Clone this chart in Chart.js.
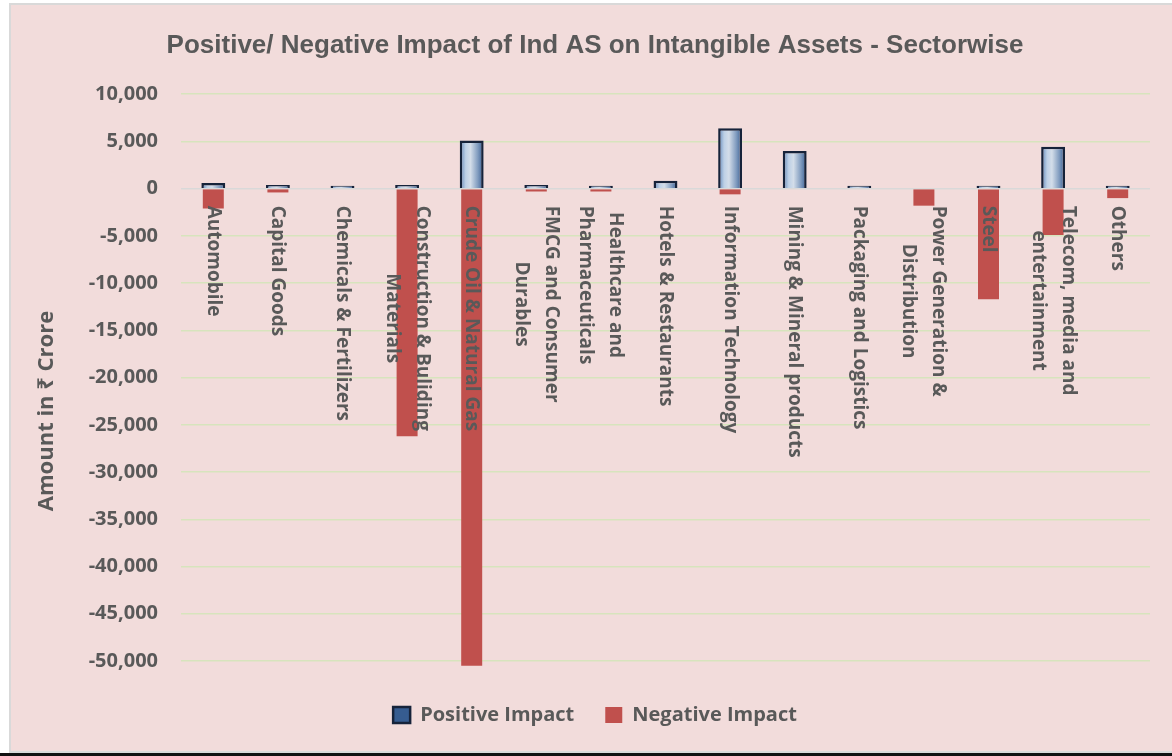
<!DOCTYPE html>
<html>
<head>
<meta charset="utf-8">
<script src="https://cdn.jsdelivr.net/npm/chart.js@4/dist/chart.umd.min.js"></script>
<style>
    body { margin: 0; background: #ffffff; width: 1172px; height: 756px; overflow: hidden; position: relative; }
    #frame { position: absolute; left: 9px; top: 3px; width: 1163px; height: 750px; box-sizing: border-box;
             border: 2px solid #d9d9d9; border-right: none; background: #f2dcdb; }
    #baseline { position: absolute; left: 0; top: 753px; width: 1172px; height: 3px; background: #111; }
    #wrap { position: absolute; left: 0; top: 0; width: 1172px; height: 756px; }
</style>
</head>
<body>
<div id="frame"></div>
<div id="baseline"></div>
<div id="wrap"><canvas id="impact-chart" width="1172" height="756"></canvas></div>
<script>
// Sectores (cada etiqueta puede tener varias líneas)
const categories = [
    ['Automobile'],
    ['Capital Goods'],
    ['Chemicals & Fertilizers'],
    ['Construction & Buliding', 'Materials'],
    ['Crude Oil & Natural Gas'],
    ['FMCG and Consumer', 'Durables'],
    ['Healthcare and', 'Pharmaceuticals'],
    ['Hotels & Restaurants'],
    ['Information Technology'],
    ['Mining & Mineral products'],
    ['Packaging and Logistics'],
    ['Power Generation &', 'Distribution'],
    ['Steel'],
    ['Telecom, media and', 'entertainment'],
    ['Others'],
];
const positiveImpact = [600, 400, 300, 400, 5100, 400, 300, 850, 6400, 4000, 300, 0, 300, 4450, 300];
const negativeImpact = [-2100, -400, 0, -26200, -50500, -300, -300, 0, -600, 0, 0, -1800, -11700, -4900, -1000];
const yTicks = [10000, 5000, 0, -5000, -10000, -15000, -20000, -25000, -30000, -35000, -40000, -45000, -50000];

const TEXT = '#595959';
const FONT = "'Open Sans', 'Noto Sans', sans-serif";

/**
 * Relleno biselado para las barras positivas.
 */
function bevelFill(context) {
    const chart = context.chart;
    const xScale = chart.scales.x;
    if (context.type !== 'data' || !xScale) return '#6f93c0';
    const cx = xScale.getPixelForValue(context.dataIndex);
    if (!Number.isFinite(cx)) return '#6f93c0';
    const g = chart.ctx.createLinearGradient(cx - 12, 0, cx + 12, 0);
    g.addColorStop(0, '#5a82b5');
    g.addColorStop(0.25, '#bdd0e6');
    g.addColorStop(0.45, '#d3dde9');
    g.addColorStop(0.75, '#829dc0');
    g.addColorStop(1, '#365c90');
    return g;
}

// Etiquetas de categoría giradas junto al eje cero, y título del eje Y
const labelsPlugin = {
    id: 'sectorLabels',
    afterDatasetsDraw(chart) {
        const { ctx, scales } = chart;
        const x = scales.x;
        const y = scales.y;
        const top = y.getPixelForValue(0) + 17;
        const lineH = 30;
        ctx.save();
        ctx.fillStyle = TEXT;
        ctx.font = `bold 19px ${FONT}`;
        ctx.textAlign = 'center';
        ctx.textBaseline = 'middle';
        categories.forEach((lines, i) => {
            const cx = x.getPixelForValue(i);
            const maxW = Math.max(...lines.map((l) => ctx.measureText(l).width));
            ctx.save();
            ctx.translate(cx, top);
            ctx.rotate(Math.PI / 2);
            lines.forEach((line, j) => {
                ctx.fillText(line, maxW / 2, (j - (lines.length - 1) / 2) * lineH);
            });
            ctx.restore();
        });
        // título del eje Y
        ctx.font = `bold 22px ${FONT}`;
        ctx.translate(47, 411);
        ctx.rotate(-Math.PI / 2);
        ctx.fillText('Amount in ₹ Crore', 0, 0);
        ctx.restore();
    },
};

const ctx = document.getElementById('impact-chart').getContext('2d');
new Chart(ctx, {
    type: 'bar',
    data: {
        labels: categories.map((c) => c.join(' ')),
        datasets: [
            {
                label: 'Positive Impact',
                data: positiveImpact,
                backgroundColor: bevelFill,
                borderColor: '#16233a',
                borderWidth: 2.5,
                grouped: false,
                barPercentage: 0.37,
                categoryPercentage: 1,
            },
            {
                label: 'Negative Impact',
                data: negativeImpact,
                backgroundColor: '#c0504d',
                borderWidth: 0,
                grouped: false,
                barPercentage: 0.325,
                categoryPercentage: 1,
                clip: false,
            },
        ],
    },
    options: {
        responsive: false,
        animation: false,
        layout: { padding: { left: 40, right: 22, top: 0, bottom: 21 } },
        plugins: {
            title: {
                display: true,
                text: 'Positive/ Negative Impact of Ind AS on Intangible Assets - Sectorwise',
                color: TEXT,
                font: { family: "'Liberation Sans Narrow', 'Arial Narrow', 'Liberation Sans', sans-serif", size: 26, weight: 'bold' },
                padding: { top: 30, bottom: 33 },
            },
            legend: {
                position: 'bottom',
                labels: {
                    color: TEXT,
                    font: { family: FONT, size: 20, weight: 'bold' },
                    boxWidth: 17,
                    boxHeight: 16,
                    padding: 31,
                },
            },
            tooltip: { enabled: false },
        },
        scales: {
            x: {
                display: true,
                grid: { display: false },
                border: { display: false },
                ticks: { display: false },
                afterFit: (scale) => { scale.height = 13; },
            },
            y: {
                min: -50000,
                max: 10000,
                afterBuildTicks: (scale) => { scale.ticks = yTicks.map((v) => ({ value: v })); },
                afterFit: (scale) => { scale.width = 141; },
                border: { display: false },
                grid: {
                    drawTicks: false,
                    lineWidth: 1.5,
                    color: (c) => (c.tick && c.tick.value === 0 ? '#d9d9d9' : '#d7e4bd'),
                },
                ticks: {
                    padding: 23,
                    color: TEXT,
                    font: { family: FONT, size: 20, weight: 'bold' },
                    callback: (value) => value.toLocaleString('en-US'),
                },
            },
        },
    },
    plugins: [labelsPlugin],
});
</script>
</body>
</html>
